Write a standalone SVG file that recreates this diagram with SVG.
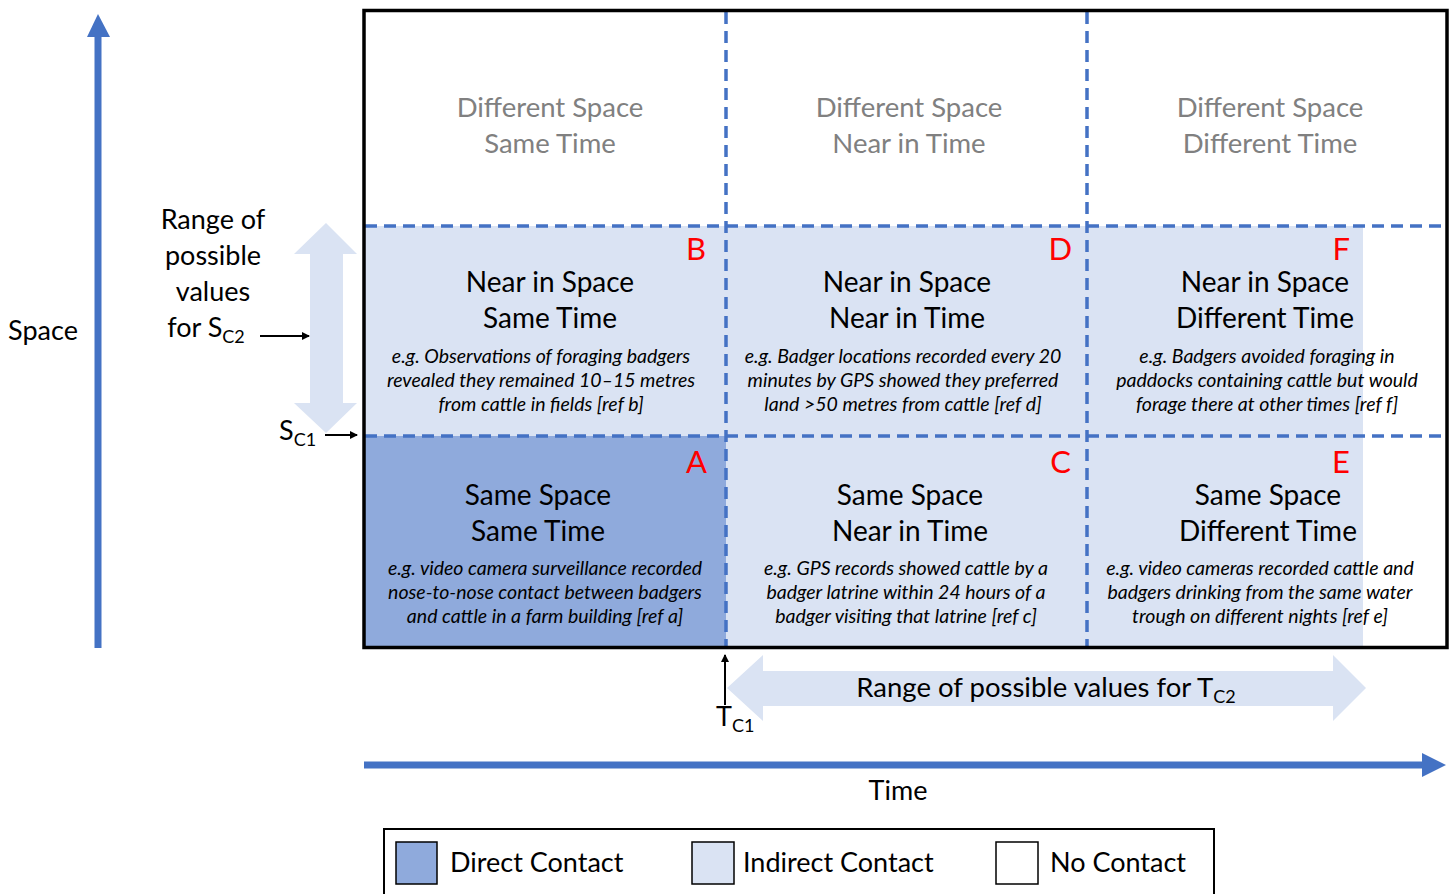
<svg xmlns="http://www.w3.org/2000/svg" width="1455" height="894" viewBox="0 0 1455 894">
<style>
text{font-family:"Lato","Liberation Sans",sans-serif;fill:#000}
.t{font-size:27px;text-anchor:middle}
.h{font-size:28px;text-anchor:middle}
.g{font-size:27.5px;text-anchor:middle;fill:#808080}
.i{font-size:19.5px;font-style:italic;text-anchor:middle}
.l{font-size:31px;fill:#FF0000;text-anchor:end}
.d{stroke:#4472C4;stroke-width:3.5;stroke-dasharray:12 7;fill:none}
.s{font-size:18px}
</style>
<defs>
<marker id="ah" markerWidth="8" markerHeight="8" refX="7" refY="4" orient="auto" markerUnits="userSpaceOnUse"><path d="M0,0 L8,4 L0,8 Z" fill="#000"/></marker>
</defs>
<rect width="1455" height="894" fill="#fff"/>
<rect x="365" y="226" width="998" height="421" fill="#DAE3F3"/>
<rect x="365" y="436" width="361" height="211" fill="#8FAADC"/>
<g id="connectors">
<line class="d" x1="726" y1="12" x2="726" y2="647"/>
<line class="d" x1="1087" y1="12" x2="1087" y2="647"/>
<line class="d" x1="365" y1="226" x2="1446" y2="226"/>
<line class="d" x1="365" y1="436" x2="1446" y2="436"/>
<line x1="98" y1="648" x2="98" y2="34" stroke="#4472C4" stroke-width="7"/>
<polygon points="87,37 98,14 110,37" fill="#4472C4"/>
<line x1="364" y1="765" x2="1424" y2="765" stroke="#4472C4" stroke-width="7"/>
<polygon points="1422,753 1446,765 1422,777" fill="#4472C4"/>
<polygon points="326,223 357,254 343,254 343,403 357,403 326,433 294,403 310,403 310,254 294,254" fill="#DAE3F3"/>
<polygon points="727,688 763,655 763,671 1333,671 1333,655 1366,688 1333,721 1333,706 763,706 763,721" fill="#DAE3F3"/>
<line x1="260" y1="336" x2="309" y2="336" stroke="#000" stroke-width="2" marker-end="url(#ah)"/>
<line x1="325" y1="435" x2="357" y2="435" stroke="#000" stroke-width="2" marker-end="url(#ah)"/>
<line x1="725" y1="705" x2="725" y2="655" stroke="#000" stroke-width="2" marker-end="url(#ah)"/>
</g>
<rect x="364" y="10.5" width="1083" height="637" fill="none" stroke="#000" stroke-width="3.5"/>
<g id="space-label"><text class="t" x="43" y="340">Space</text></g>
<g id="time-label"><text class="t" x="898" y="800">Time</text></g>
<g id="sc2-label">
<text class="t" x="213" y="229">Range of</text>
<text class="t" x="213" y="265">possible</text>
<text class="t" x="213" y="301">values</text>
<text class="t" x="206" y="337">for S<tspan class="s" dy="6">C2</tspan></text>
</g>
<g id="sc1-label"><text x="279" y="440" style="font-size:27px">S<tspan class="s" dy="6">C1</tspan></text></g>
<g id="tc1-label"><text x="716" y="726" style="font-size:27px">T<tspan class="s" dy="6">C1</tspan></text></g>
<g id="tc2-label"><text class="t" x="1046" y="697" style="font-size:27.5px">Range of possible values for T<tspan class="s" dy="6">C2</tspan></text></g>
<g id="cell-dsst"><text class="g" x="550" y="117">Different Space</text><text class="g" x="550" y="153">Same Time</text></g>
<g id="cell-dsnt"><text class="g" x="909" y="117">Different Space</text><text class="g" x="909" y="153">Near in Time</text></g>
<g id="cell-dsdt"><text class="g" x="1270" y="117">Different Space</text><text class="g" x="1270" y="153">Different Time</text></g>
<g id="cell-B">
<text class="l" x="706" y="260">B</text>
<text class="h" x="550" y="292">Near in Space</text><text class="h" x="550" y="328">Same Time</text>
<text class="i" x="541" y="363">e.g. Observations of foraging badgers</text>
<text class="i" x="541" y="387">revealed they remained 10–15 metres</text>
<text class="i" x="541" y="411">from cattle in fields [ref b]</text>
</g>
<g id="cell-D">
<text class="l" x="1072" y="260">D</text>
<text class="h" x="907" y="292">Near in Space</text><text class="h" x="907" y="328">Near in Time</text>
<text class="i" x="903" y="363">e.g. Badger locations recorded every 20</text>
<text class="i" x="903" y="387">minutes by GPS showed they preferred</text>
<text class="i" x="903" y="411">land &gt;50 metres from cattle [ref d]</text>
</g>
<g id="cell-F">
<text class="l" x="1350" y="260">F</text>
<text class="h" x="1265" y="292">Near in Space</text><text class="h" x="1265" y="328">Different Time</text>
<text class="i" x="1267" y="363">e.g. Badgers avoided foraging in</text>
<text class="i" x="1267" y="387">paddocks containing cattle but would</text>
<text class="i" x="1267" y="411">forage there at other times [ref f]</text>
</g>
<g id="cell-A">
<text class="l" x="707" y="473">A</text>
<text class="h" x="538" y="505">Same Space</text><text class="h" x="538" y="541">Same Time</text>
<text class="i" x="545" y="575">e.g. video camera surveillance recorded</text>
<text class="i" x="545" y="599">nose-to-nose contact between badgers</text>
<text class="i" x="545" y="623">and cattle in a farm building [ref a]</text>
</g>
<g id="cell-C">
<text class="l" x="1071" y="473">C</text>
<text class="h" x="910" y="505">Same Space</text><text class="h" x="910" y="541">Near in Time</text>
<text class="i" x="906" y="575">e.g. GPS records showed cattle by a</text>
<text class="i" x="906" y="599">badger latrine within 24 hours of a</text>
<text class="i" x="906" y="623">badger visiting that latrine [ref c]</text>
</g>
<g id="cell-E">
<text class="l" x="1350" y="473">E</text>
<text class="h" x="1268" y="505">Same Space</text><text class="h" x="1268" y="541">Different Time</text>
<text class="i" x="1260" y="575">e.g. video cameras recorded cattle and</text>
<text class="i" x="1260" y="599">badgers drinking from the same water</text>
<text class="i" x="1260" y="623">trough on different nights [ref e]</text>
</g>
<g id="legend">
<rect x="384" y="829" width="830" height="70" fill="#fff" stroke="#000" stroke-width="2"/>
<rect x="396" y="842" width="41" height="42" fill="#8FAADC" stroke="#000" stroke-width="1.5"/>
<text x="450" y="872" style="font-size:27px">Direct Contact</text>
<rect x="692" y="842" width="42" height="42" fill="#DAE3F3" stroke="#000" stroke-width="1.5"/>
<text x="743" y="872" style="font-size:27px">Indirect Contact</text>
<rect x="996" y="842" width="42" height="42" fill="#fff" stroke="#000" stroke-width="1.5"/>
<text x="1050" y="872" style="font-size:27px">No Contact</text>
</g>
</svg>
